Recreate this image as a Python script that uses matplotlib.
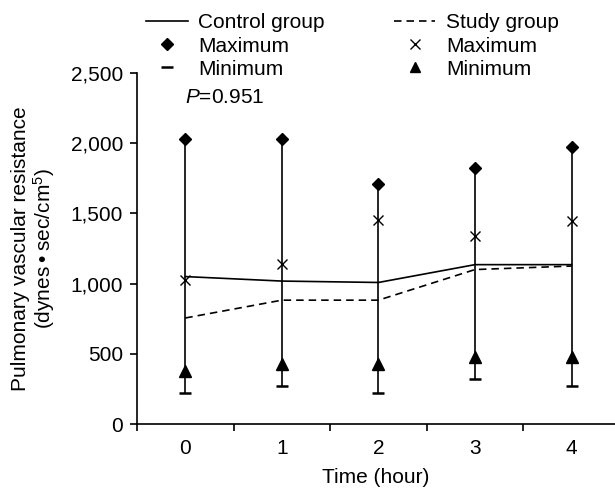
import matplotlib
matplotlib.use("Agg")
import matplotlib.pyplot as plt
from matplotlib.lines import Line2D
from matplotlib.ticker import FixedLocator, FuncFormatter

plt.rcParams['font.family'] = ['Liberation Sans', 'DejaVu Sans']
plt.rcParams['mathtext.fontset'] = 'custom'
plt.rcParams['mathtext.rm'] = 'Liberation Sans'
plt.rcParams['mathtext.it'] = 'Liberation Sans:italic'

hours = ['0', '1', '2', '3', '4']
control_mean = [1050, 1018, 1008, 1135, 1135]
study_mean = [755, 882, 882, 1100, 1125]
control_max = [2028, 2028, 1712, 1825, 1975]
control_min = [218, 272, 218, 320, 272]
study_max = [1028, 1140, 1455, 1337, 1444]
study_min = [380, 430, 430, 480, 480]

FS = 15
xs = list(range(len(hours)))

fig = plt.figure(figsize=(6.15, 4.92), dpi=100)
ax = fig.add_axes([137 / 615, 1 - 424 / 492, 1 - 137 / 615, (424 - 73) / 492])

ax.vlines(xs, control_min, control_max, color='black', lw=1.2, zorder=2)
ax.plot(xs, control_mean, color='black', lw=1.2, zorder=3)
ax.plot(xs, study_mean, color='black', lw=1.2, ls=(0, (4.5, 3)), zorder=3)
ax.plot(xs, control_max, ls='none', marker='D', ms=6.5, color='black', zorder=4)
ax.plot(xs, control_min, ls='none', marker='_', ms=8, mew=1.8, color='black', zorder=4)
ax.plot(xs, study_max, ls='none', marker='x', ms=7, mew=1.0, color='black', zorder=4)
ax.plot(xs, study_min, ls='none', marker='^', ms=8, color='black', zorder=4)

ax.set_xlim(-0.5, 4.45)
ax.set_ylim(0, 2500)
ax.spines['top'].set_visible(False)
ax.spines['right'].set_visible(False)
for s in ('left', 'bottom'):
    ax.spines[s].set_linewidth(1.2)

ax.set_yticks([0, 500, 1000, 1500, 2000, 2500])
ax.yaxis.set_major_formatter(FuncFormatter(lambda v, p: f'{int(v):,}'))
ax.tick_params(axis='y', direction='out', length=5, width=1.2, labelsize=FS, pad=5)

ax.xaxis.set_major_locator(FixedLocator([x - 0.5 for x in xs]))
ax.xaxis.set_minor_locator(FixedLocator(xs))
ax.set_xticklabels([])
ax.set_xticklabels(hours, minor=True)
ax.tick_params(axis='x', which='major', direction='out', length=5, width=1.2)
ax.tick_params(axis='x', which='minor', length=0, labelsize=FS, pad=11)

ax.set_xlabel('Time (hour)', fontsize=FS, labelpad=7)
ax.set_ylabel('Pulmonary vascular resistance\n(dynes\u2009\u2022\u2009sec/cm$^{5}$)',
              fontsize=FS, labelpad=10, linespacing=1.05)

ax.text(0, 2322, '$\\it{P}$=0.951', fontsize=FS, va='center', ha='left')

handles = [
    Line2D([], [], color='black', lw=1.2),
    Line2D([], [], ls='none', marker='D', ms=6, color='black'),
    Line2D([], [], ls='none', marker='_', ms=8, mew=1.8, color='black'),
    Line2D([], [], color='black', lw=1.2, ls=(0, (4.5, 3))),
    Line2D([], [], ls='none', marker='x', ms=6.5, mew=1.0, color='black'),
    Line2D([], [], ls='none', marker='^', ms=7.5, color='black'),
]
labels = ['Control group', 'Maximum', 'Minimum', 'Study group', 'Maximum', 'Minimum']
fig.legend(handles, labels, ncol=2, frameon=False, fontsize=FS,
           loc='upper left', bbox_to_anchor=(136 / 615, 1 - 3 / 492),
           borderpad=0, handlelength=2.0, handletextpad=0.5,
           labelspacing=0.2, columnspacing=3.3)

fig.savefig('out.png', dpi=100)
